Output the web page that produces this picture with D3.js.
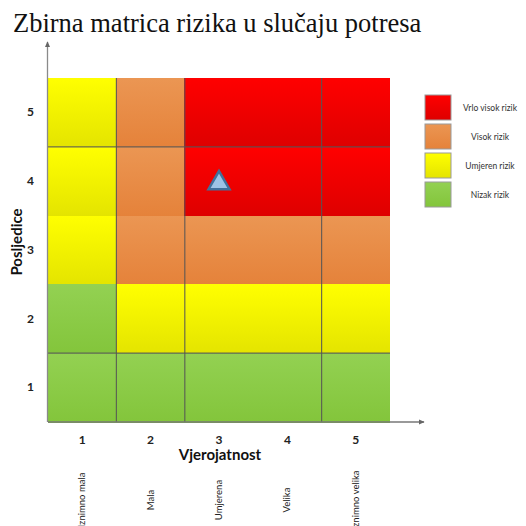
<!DOCTYPE html>
<html lang="hr">
<head>
  <meta charset="UTF-8">
  <title>Zbirna matrica rizika</title>
  <script src="https://cdn.jsdelivr.net/npm/d3@7"></script>
  <style>
    body { margin: 0; background: #fff; }
    svg text { font-family: Lato, "Open Sans", sans-serif; }
  </style>
</head>
<body>
<div id="chart"></div>
<script>
  // data
  var probLevels = [1, 2, 3, 4, 5];          // Vjerojatnost
  var consLevels = [1, 2, 3, 4, 5];          // Posljedice
  var probNames = ["Iznimno mala", "Mala", "Umjerena", "Velika", "Iznimno velika"];
  // risk level per row (posljedice 5 .. 1), columns vjerojatnost 1..5
  var riskRow5 = ["U", "V", "VV", "VV", "VV"];
  var riskRow4 = ["U", "V", "VV", "VV", "VV"];
  var riskRow3 = ["U", "V", "V", "V", "V"];
  var riskRow2 = ["N", "U", "U", "U", "U"];
  var riskRow1 = ["N", "N", "N", "N", "N"];
  var legendKeys = ["VV", "V", "U", "N"];
  var legendNames = ["Vrlo visok rizik", "Visok rizik", "Umjeren rizik", "Nizak rizik"];
  // dividing lines drawn after these columns / rows
  var colBreaks = [1, 2, 4];
  var rowBreaks = [1, 4];
  // assessed point
  var marker = {prob: 3, cons: 4};

  var gradTop = {VV: "#ff0000", V: "#eb9653", U: "#ffff00", N: "#93d152"};
  var gradBot = {VV: "#de0000", V: "#e5823a", U: "#e4e400", N: "#83c53b"};

  var W = 526, H = 526;
  var svg = d3.select("#chart").append("svg")
    .attr("width", W).attr("height", H);

  var defs = svg.append("defs");
  legendKeys.forEach(function(k) {
    var g = defs.append("linearGradient").attr("id", "g" + k)
      .attr("x1", 0).attr("y1", 0).attr("x2", 0).attr("y2", 1);
    g.append("stop").attr("offset", "0%").attr("stop-color", gradTop[k]);
    g.append("stop").attr("offset", "100%").attr("stop-color", gradBot[k]);
  });

  var x = d3.scaleBand().domain(probLevels).range([48, 390]);
  var y = d3.scaleBand().domain(consLevels.slice().reverse()).range([78, 422]);

  // title
  svg.append("text")
    .attr("x", 13).attr("y", 32)
    .style("font-family", "'Liberation Serif', 'Times New Roman', serif")
    .style("font-size", "26.5px")
    .attr("fill", "#111")
    .text("Zbirna matrica rizika u slučaju potresa");

  // cells
  var rows = [riskRow5, riskRow4, riskRow3, riskRow2, riskRow1];
  var cells = [];
  rows.forEach(function(r, i) {
    r.forEach(function(k, j) {
      cells.push({cons: 5 - i, prob: probLevels[j], key: k});
    });
  });

  svg.append("g").attr("shape-rendering", "crispEdges")
    .selectAll("rect").data(cells).enter().append("rect")
    .attr("x", function(d) { return Math.floor(x(d.prob)); })
    .attr("y", function(d) { return y(d.cons); })
    .attr("width", x.bandwidth() + 1)
    .attr("height", y.bandwidth() + 0.6)
    .attr("fill", function(d) { return "url(#g" + d.key + ")"; });

  // divider lines
  var gl = svg.append("g").attr("stroke", "#555").attr("stroke-opacity", 0.85).attr("stroke-width", 1.2);
  gl.selectAll("line.v").data(colBreaks).enter().append("line")
    .attr("x1", function(d) { return x(d) + x.bandwidth(); })
    .attr("x2", function(d) { return x(d) + x.bandwidth(); })
    .attr("y1", 78).attr("y2", 422);
  gl.selectAll("line.h").data(rowBreaks).enter().append("line")
    .attr("y1", function(d) { return y(d); })
    .attr("y2", function(d) { return y(d); })
    .attr("x1", 48).attr("x2", 390);

  // axis arrows
  var arr = defs.append("marker").attr("id", "arrow")
    .attr("viewBox", "0 0 10 10").attr("refX", 8).attr("refY", 5)
    .attr("markerWidth", 5).attr("markerHeight", 5).attr("orient", "auto");
  arr.append("path").attr("d", "M0,1L9,5L0,9z").attr("fill", "#666");

  svg.append("line").attr("x1", 47.5).attr("x2", 47.5).attr("y1", 422).attr("y2", 42)
    .attr("stroke", "#8a8a8a").attr("stroke-width", 1.3).attr("marker-end", "url(#arrow)");
  svg.append("line").attr("x1", 48).attr("x2", 424).attr("y1", 422).attr("y2", 422)
    .attr("stroke", "#777").attr("stroke-width", 1.3).attr("marker-end", "url(#arrow)");

  // ticks
  var xAxis = svg.append("g").attr("transform", "translate(0,422)")
    .call(d3.axisBottom(x).tickSize(0).tickPadding(13));
  xAxis.select(".domain").remove();
  xAxis.selectAll("text").style("font-family", "Lato, sans-serif")
    .style("font-size", "12px").style("font-weight", "bold").attr("fill", "#222");

  var yAxis = svg.append("g").attr("transform", "translate(48,0)")
    .call(d3.axisLeft(y).tickSize(0).tickPadding(14));
  yAxis.select(".domain").remove();
  yAxis.selectAll("text").style("font-family", "Lato, sans-serif")
    .style("font-size", "12px").style("font-weight", "bold").attr("fill", "#222");

  // axis titles
  svg.append("text").attr("x", 220).attr("y", 460)
    .attr("text-anchor", "middle")
    .style("font-size", "15px").style("font-weight", "bold").attr("fill", "#111")
    .text("Vjerojatnost");
  svg.append("text")
    .attr("transform", "translate(22,242) rotate(-90)")
    .attr("text-anchor", "middle")
    .style("font-size", "15px").style("font-weight", "bold").attr("fill", "#111")
    .text("Posljedice");

  // category names under x ticks (long ones run off the bottom, as in the original)
  svg.append("g").selectAll("text").data(probLevels).enter().append("text")
    .attr("transform", function(d) {
      return "translate(" + (x(d) + x.bandwidth() / 2 + 3) + ",500) rotate(-90)";
    })
    .attr("text-anchor", "middle")
    .style("font-size", "9.5px").attr("fill", "#222")
    .text(function(d, i) { return probNames[i]; });

  // marker
  var tri = d3.symbol().type(d3.symbolTriangle).size(190);
  svg.append("path")
    .attr("d", tri())
    .attr("transform", "translate(" + (x(marker.prob) + x.bandwidth() / 2) + "," + (y(marker.cons) + y.bandwidth() / 2 + 2) + ")")
    .attr("fill", "#9dc3e6").attr("stroke", "#41719c").attr("stroke-width", 2.5);

  // legend
  var lg = svg.append("g").selectAll("g").data(legendKeys).enter().append("g")
    .attr("transform", function(d, i) { return "translate(425," + (95 + i * 29) + ")"; });
  lg.append("rect").attr("width", 26).attr("height", 25)
    .attr("fill", function(d) { return "url(#g" + d + ")"; })
    .attr("stroke", "#9a9a9a").attr("stroke-width", 1);
  lg.append("text").attr("x", 65).attr("y", 15.5)
    .attr("text-anchor", "middle")
    .style("font-size", "8.5px").attr("fill", "#333")
    .text(function(d, i) { return legendNames[i]; });
</script>
</body>
</html>
